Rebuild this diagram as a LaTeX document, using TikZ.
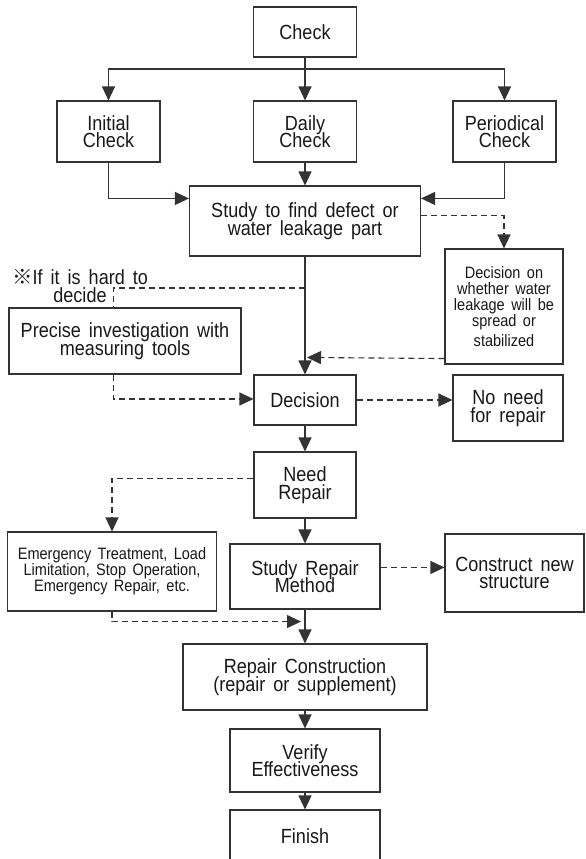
\documentclass[tikz,border=0pt]{standalone}
\usepackage{fontspec}
\setmainfont[FakeStretch=0.88,WordSpace=1.6]{Liberation Sans}
\newfontfamily\cjkf{Noto Sans CJK KR}
\usetikzlibrary{arrows.meta,calc}
\newcommand\fbig{\fontsize{20.5}{17.5}\selectfont\lineskiplimit=-20pt\relax}
\newcommand\fsmall{\fontsize{16.5}{16}\selectfont\lineskiplimit=-20pt\relax}
\tikzset{
 box/.style={draw=black!80, line width=1.1pt, rectangle, inner sep=0pt, align=center, text=black!90},
 big/.style={font=\fbig},
 small/.style={font=\fsmall},
 sline/.style={draw=black!80, line width=1.1pt},
 dline/.style={sline, dash pattern=on 6pt off 4pt},
 arr/.style={sline, -{Triangle[length=14pt,width=13pt]}},
 darr/.style={arr, dash pattern=on 6pt off 4pt},
}
\begin{document}
\begin{tikzpicture}[x=1pt,y=-1pt]
\path[use as bounding box] (0,0) rectangle (586,859);
\clip (0,0) rectangle (586,859);
\fill[white] (0,0) rectangle (586,859);
% nodes
\node[box,big,minimum width=103pt,minimum height=50pt] (check) at (305,32) {Check};
\node[box,big,minimum width=103pt,minimum height=61pt] (init) at (108.5,131.5) {Initial\\Check};
\node[box,big,minimum width=103pt,minimum height=61pt] (daily) at (305,131.5) {Daily\\Check};
\node[box,big,minimum width=103pt,minimum height=61pt] (period) at (504.5,131.5) {Periodical\\Check};
\node[box,big,minimum width=231pt,minimum height=70pt] (study) at (305,221) {Study to find defect or\\water leakage part};
\node[box,small,minimum width=118pt,minimum height=115pt] (decon) at (504,306.5) {Decision on\\whether water\\leakage will be\\spread or\\[4pt]stabilized};
\node[big,align=center,inner sep=0pt,text=black!90] (hard) at (80,286) {{\cjkf ※}If it is hard to\\decide};
\node[box,big,minimum width=232pt,minimum height=66pt] (precise) at (125,341) {Precise investigation with\\measuring tools};
\node[box,big,minimum width=102pt,minimum height=50pt] (decision) at (305,400) {Decision};
\node[box,big,minimum width=110pt,minimum height=66pt] (noneed) at (508,408) {No need\\for repair};
\node[box,big,minimum width=102pt,minimum height=66pt] (needrep) at (305,485) {Need\\Repair};
\node[box,small,minimum width=209pt,minimum height=79pt] (emerg) at (112,571.5) {Emergency Treatment, Load\\Limitation, Stop Operation,\\Emergency Repair, etc.};
\node[box,big,minimum width=150pt,minimum height=65pt] (studyrep) at (305,576.5) {Study Repair\\Method};
\node[box,big,minimum width=139pt,minimum height=78pt] (construct) at (514.5,573) {Construct new\\structure};
\node[box,big,minimum width=244pt,minimum height=66pt] (repcon) at (305,677) {Repair Construction\\(repair or supplement)};
\node[box,big,minimum width=150pt,minimum height=63pt] (verify) at (305,760.5) {Verify\\Effectiveness};
\node[box,big,minimum width=150pt,minimum height=52pt] (finish) at (305,836) {Finish};
% connectors
\coordinate (hb) at (305,69);
\draw[sline] (check.south) -- (hb);
\draw[arr] (hb) -| (init.north);
\draw[arr] (hb) -| (period.north);
\draw[arr] (hb) -- (daily.north);
\draw[arr] (daily.south) -- (study.north);
\draw[arr] (init.south) |- ($(study.north west)+(0,13)$);
\draw[arr] (period.south) |- ($(study.north east)+(0,13)$);
\draw[darr] ($(study.north east)+(0,30)$) -| (decon.north);
\draw[arr] (study.south) -- (decision.north);
\draw[darr] ($(decon.south west)+(0,-6)$) -- ($(decision.north)+(2,-17)$);
\coordinate (j1) at (305,288);
\draw[dline] (j1) -| ($(precise.north west)+(105,0)$);
\draw[darr] ($(precise.south west)+(105,0)$) |- ($(decision.west)+(0,-1)$);
\draw[darr] (decision.east) -- (noneed.west |- decision.east);
\draw[arr] (decision.south) -- (needrep.north);
\draw[darr] ($(needrep.north west)+(0,27)$) -| (emerg.north);
\draw[arr] (needrep.south) -- (studyrep.north);
\draw[darr] ($(studyrep.north east)+(0,24)$) -- ($(construct.north west)+(0,34)$);
\draw[darr] (emerg.south) |- ($(studyrep.south)+(-4,12)$);
\draw[arr] (studyrep.south) -- (repcon.north);
\draw[arr] (repcon.south) -- (verify.north);
\draw[arr] (verify.south) -- (finish.north);
\end{tikzpicture}
\end{document}
